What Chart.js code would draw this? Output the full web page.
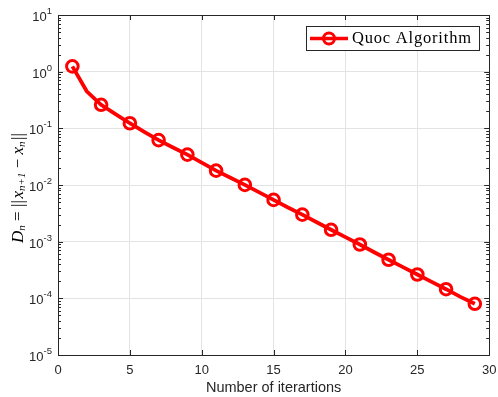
<!DOCTYPE html>
<html>
<head>
<meta charset="utf-8">
<script src="https://cdn.jsdelivr.net/npm/chart.js@4/dist/chart.umd.min.js"></script>
<style>
  html, body { margin: 0; padding: 0; background: #fff; }
  #wrap { width: 498px; height: 397px; position: relative; }
</style>
</head>
<body>
<div id="wrap"><canvas id="c" width="498" height="397"></canvas></div>
<script>
// Iteration index and the successive-difference norm D_n
const iterations = [1, 2, 3, 4, 5, 6, 7, 8, 9, 10, 11, 12, 13, 14, 15,
                    16, 17, 18, 19, 20, 21, 22, 23, 24, 25, 26, 27, 28, 29];
const dnValues = [1.24, 0.45, 0.26, 0.178, 0.123, 0.087, 0.062, 0.046, 0.0344, 0.0248,
                  0.0179, 0.0134, 0.01005, 0.0074, 0.00546, 0.0040, 0.0030, 0.0022, 0.00162, 0.0012,
                  0.00089, 0.00065, 0.00048, 0.000355, 0.000263, 0.000195, 0.000145, 0.000106, 0.000080];
const seriesLabel = 'Quoc Algorithm';
const xTicks = [0, 5, 10, 15, 20, 25, 30];
const yDecades = [-5, -4, -3, -2, -1, 0, 1];

const AXIS = '#262626';
const GRID = '#e3e3e3';
const RED = '#ff0000';

const isDecade = v => Math.abs(Math.log10(v) - Math.round(Math.log10(v))) < 1e-9;

// Draws the box, inward tick marks, tick labels, axis titles and legend
const matlabAxes = {
  id: 'matlabAxes',
  afterDraw(chart) {
    const ctx = chart.ctx;
    const a = chart.chartArea;
    const xs = chart.scales.x, ys = chart.scales.y;
    ctx.save();
    ctx.strokeStyle = AXIS;
    ctx.lineWidth = 1;

    // box
    ctx.strokeRect(Math.round(a.left) + 0.5, Math.round(a.top) + 0.5,
                   Math.round(a.right - a.left), Math.round(a.bottom - a.top));

    // x ticks (inward, top and bottom)
    ctx.beginPath();
    xTicks.forEach(v => {
      const px = Math.round(xs.getPixelForValue(v)) + 0.5;
      ctx.moveTo(px, a.bottom); ctx.lineTo(px, a.bottom - 5);
      ctx.moveTo(px, a.top); ctx.lineTo(px, a.top + 5);
    });
    // y ticks: decades long, intermediate short (inward, left and right)
    for (let d = -5; d < 1; d++) {
      for (let m = 1; m <= 9; m++) {
        const v = m * Math.pow(10, d);
        const py = Math.round(ys.getPixelForValue(v)) + 0.5;
        const len = m === 1 ? 5 : 3;
        ctx.moveTo(a.left, py); ctx.lineTo(a.left + len, py);
        ctx.moveTo(a.right, py); ctx.lineTo(a.right - len, py);
      }
    }
    const pTop = Math.round(ys.getPixelForValue(10)) + 0.5;
    ctx.moveTo(a.left, pTop); ctx.lineTo(a.left + 5, pTop);
    ctx.moveTo(a.right, pTop); ctx.lineTo(a.right - 5, pTop);
    ctx.stroke();

    // x tick labels
    ctx.fillStyle = AXIS;
    ctx.font = '13px "Liberation Sans", Arial, sans-serif';
    ctx.textAlign = 'center';
    ctx.textBaseline = 'middle';
    xTicks.forEach(v => ctx.fillText(String(v), xs.getPixelForValue(v), a.bottom + 15));

    // y tick labels: 10 with superscript exponent
    yDecades.forEach(e => {
      const py = ys.getPixelForValue(Math.pow(10, e));
      const exp = String(e);
      ctx.font = '9.5px "Liberation Sans", Arial, sans-serif';
      const ew = ctx.measureText(exp).width;
      const xRight = a.left - 6;
      ctx.textAlign = 'left';
      ctx.textBaseline = 'alphabetic';
      ctx.fillText(exp, xRight - ew, py - 1);
      ctx.font = '13px "Liberation Sans", Arial, sans-serif';
      ctx.textAlign = 'right';
      ctx.fillText('10', xRight - ew, py + 6);
    });

    // x axis title
    ctx.font = '14.5px "Liberation Sans", Arial, sans-serif';
    ctx.textAlign = 'center';
    ctx.textBaseline = 'middle';
    ctx.fillText('Number of iterartions', (a.left + a.right) / 2, a.bottom + 33);

    // y axis title: D_n = ||x_{n+1} - x_n||
    ctx.translate(19, (a.top + a.bottom) / 2 + 3);
    ctx.rotate(-Math.PI / 2);
    const big = '17px "Liberation Serif", serif';
    const bigI = 'italic 17px "Liberation Serif", serif';
    const sub = 'italic 11px "Liberation Serif", serif';
    const parts = [
      { t: 'D', f: bigI, dy: 0 },
      { t: 'n', f: sub, dy: 3 },
      { t: ' = ', f: big, dy: 0 },
      { t: '|', f: big, dy: 0, w: 3.5 },
      { t: '|', f: big, dy: 0, w: 5 },
      { t: 'x', f: bigI, dy: 0 },
      { t: 'n+1', f: sub, dy: 3 },
      { t: ' \u2212 ', f: big, dy: 0 },
      { t: 'x', f: bigI, dy: 0 },
      { t: 'n', f: sub, dy: 3, w: 7 },
      { t: '|', f: big, dy: 0, w: 3.5 },
      { t: '|', f: big, dy: 0 }
    ];
    let total = 0;
    parts.forEach(p => { ctx.font = p.f; if (p.w === undefined) p.w = ctx.measureText(p.t).width; total += p.w; });
    let x0 = -total / 2;
    ctx.textAlign = 'left';
    ctx.textBaseline = 'middle';
    ctx.fillStyle = '#000';
    parts.forEach(p => { ctx.font = p.f; ctx.fillText(p.t, x0, p.dy); x0 += p.w; });
    ctx.setTransform(1, 0, 0, 1, 0, 0);

    // legend box
    const lx = 306, ly = 26, lw = 173, lh = 24;
    ctx.fillStyle = '#fff';
    ctx.fillRect(lx, ly, lw, lh);
    ctx.strokeStyle = AXIS;
    ctx.lineWidth = 1;
    ctx.strokeRect(lx + 0.5, ly + 0.5, lw, lh);
    const cy = ly + lh / 2 + 0.5;
    ctx.strokeStyle = RED;
    ctx.lineWidth = 3.5;
    ctx.beginPath();
    ctx.moveTo(lx + 4, cy); ctx.lineTo(lx + 42, cy);
    ctx.stroke();
    ctx.lineWidth = 3;
    ctx.beginPath();
    ctx.arc(lx + 23, cy, 5.5, 0, Math.PI * 2);
    ctx.stroke();
    ctx.fillStyle = '#000';
    ctx.font = '16.5px "Liberation Serif", "Times New Roman", serif';
    ctx.letterSpacing = '0.8px';
    ctx.textAlign = 'left';
    ctx.textBaseline = 'middle';
    ctx.fillText(chart.data.datasets[0].label, lx + 46, cy);
    ctx.letterSpacing = '0px';
    ctx.restore();
  }
};

new Chart(document.getElementById('c'), {
  type: 'line',
  data: {
    labels: iterations,
    datasets: [{
      label: seriesLabel,
      data: iterations.map((x, i) => ({ x: x, y: dnValues[i] })),
      borderColor: RED,
      borderWidth: 3.8,
      backgroundColor: 'rgba(0,0,0,0)',
      pointBackgroundColor: 'rgba(0,0,0,0)',
      pointBorderColor: RED,
      pointBorderWidth: 3,
      pointRadius: ctx => (ctx.dataIndex % 2 === 0 ? 5.8 : 0),
      pointHoverRadius: ctx => (ctx.dataIndex % 2 === 0 ? 5.8 : 0),
      tension: 0,
      fill: false
    }]
  },
  options: {
    responsive: false,
    animation: false,
    events: [],
    layout: { padding: { left: 58, top: 15, right: 7, bottom: 42 } },
    plugins: { legend: { display: false }, tooltip: { enabled: false } },
    scales: {
      x: {
        type: 'linear',
        min: 0, max: 30,
        ticks: { display: false, stepSize: 5 },
        grid: { color: GRID, lineWidth: 1, drawTicks: false },
        border: { display: false }
      },
      y: {
        type: 'logarithmic',
        min: 1e-5, max: 10,
        ticks: { display: false },
        grid: {
          color: ctx => (ctx.tick && isDecade(ctx.tick.value) ? GRID : 'rgba(0,0,0,0)'),
          lineWidth: 1,
          drawTicks: false
        },
        border: { display: false }
      }
    }
  },
  plugins: [matlabAxes]
});
</script>
</body>
</html>
